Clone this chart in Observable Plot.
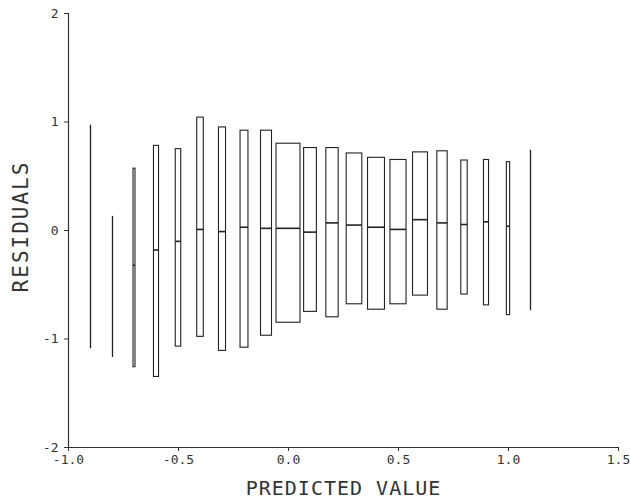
<!DOCTYPE html>
<html>
<head>
<meta charset="utf-8">
<script src="https://cdn.jsdelivr.net/npm/d3@7"></script>
<script src="https://cdn.jsdelivr.net/npm/@observablehq/plot@0.6"></script>
<style>
  html, body { margin: 0; padding: 0; background: #fff; }
</style>
</head>
<body>
<div id="chart"></div>
<script>
// Bin centres (predicted value)
const centers = [-0.9, -0.8, -0.7, -0.6, -0.5, -0.4, -0.3, -0.2, -0.1, 0.0, 0.1, 0.2, 0.3, 0.4, 0.5, 0.6, 0.7, 0.8, 0.9, 1.0, 1.1];
// Max residual in each bin
const maxRes = [0.97, 0.13, 0.57, 0.78, 0.75, 1.04, 0.95, 0.92, 0.92, 0.80, 0.76, 0.76, 0.71, 0.67, 0.65, 0.72, 0.73, 0.645, 0.65, 0.63, 0.74];
// Min residual in each bin
const minRes = [-1.09, -1.17, -1.26, -1.35, -1.07, -0.98, -1.11, -1.08, -0.97, -0.85, -0.75, -0.80, -0.68, -0.73, -0.68, -0.60, -0.73, -0.59, -0.69, -0.78, -0.74];
// Median residual in each bin (null where the box has no visible width)
const medRes = [null, null, -0.32, -0.18, -0.10, 0.01, -0.01, 0.03, 0.02, 0.02, -0.015, 0.07, 0.05, 0.03, 0.01, 0.10, 0.07, 0.055, 0.08, 0.04, null];
// Box width (relative bin size), in predicted-value units
const boxWidth = [0, 0, 0.009, 0.023, 0.025, 0.030, 0.032, 0.036, 0.050, 0.109, 0.058, 0.056, 0.071, 0.077, 0.073, 0.068, 0.047, 0.029, 0.023, 0.015, 0];

const xTicks = [-1.0, -0.5, 0.0, 0.5, 1.0, 1.5];
const yTicks = [-2, -1, 0, 1, 2];
const xTitle = "PREDICTED VALUE";
const yTitle = "RESIDUALS";

const bins = centers.map((c, i) => ({
  c, w: boxWidth[i], lo: minRes[i], hi: maxRes[i], med: medRes[i],
  x1: c - boxWidth[i] / 2, x2: c + boxWidth[i] / 2
}));
const boxes = bins.filter(d => d.w > 0);
const lines = bins.filter(d => d.w === 0);
const meds = bins.filter(d => d.med != null && d.w > 0);

const ink = "#222";

const chart = Plot.plot({
  width: 630,
  height: 502,
  marginLeft: 68,
  marginRight: 12,
  marginTop: 13,
  marginBottom: 55,
  style: { fontFamily: "DejaVu Sans Mono", background: "#fff", color: "#333" },
  x: { domain: [-1, 1.5] },
  y: { domain: [-2, 2] },
  marks: [
    Plot.axisX({ ticks: xTicks, tickFormat: d => d.toFixed(1), tickSize: 4, tickPadding: 3, fontSize: 13, label: null, stroke: "#333" }),
    Plot.axisY({ ticks: yTicks, tickFormat: d => String(d), tickSize: 4, tickPadding: 6, fontSize: 13, label: null, stroke: "#333" }),
    Plot.ruleX([-1], { y1: -2, y2: 2, stroke: "#333", strokeWidth: 1.2 }),
    Plot.ruleY([-2], { x1: -1, x2: 1.5, stroke: "#333", strokeWidth: 1.2 }),
    Plot.rect(boxes, { x1: "x1", x2: "x2", y1: "lo", y2: "hi", fill: "none", stroke: ink, strokeWidth: 1.1 }),
    Plot.ruleX(lines, { x: "c", y1: "lo", y2: "hi", stroke: ink, strokeWidth: 1.3 }),
    Plot.ruleY(meds, { y: "med", x1: "x1", x2: "x2", stroke: ink, strokeWidth: 1.6 }),
    Plot.text([xTitle], { frameAnchor: "bottom", dy: 47, fontSize: 20, fill: "#333", textAnchor: "middle", className: "xtitle" }),
    Plot.text([yTitle], { frameAnchor: "left", dx: -47, dy: -4, rotate: -90, fontSize: 21, fill: "#333", textAnchor: "middle", lineAnchor: "middle", className: "ytitle" })
  ]
});

d3.select(chart).selectAll(".xtitle text").attr("letter-spacing", "1px");
d3.select(chart).selectAll(".ytitle text").attr("letter-spacing", "2px");

document.getElementById("chart").appendChild(chart);
</script>
</body>
</html>
